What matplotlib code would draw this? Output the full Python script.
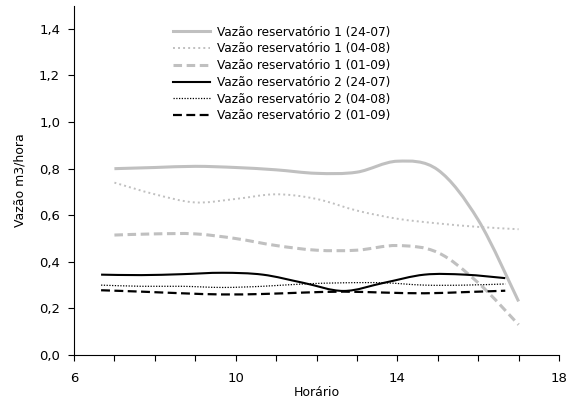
import matplotlib
matplotlib.use("Agg")
import matplotlib.pyplot as plt
from matplotlib.path import Path
from matplotlib.patches import PathPatch
from matplotlib.lines import Line2D
import numpy as np

plt.rcParams['font.family'] = ['DejaVu Sans']

# hours of the readings
hours_r1 = [7, 8, 9, 10, 11, 12, 13, 14, 15, 16, 17]
hours_r2 = [6.67, 7.67, 8.67, 9.67, 10.67, 11.67, 12.67, 13.67, 14.67, 15.67, 16.67]

# reservatório 1
r1_2407 = [0.80, 0.805, 0.81, 0.805, 0.795, 0.78, 0.785, 0.832, 0.795, 0.58, 0.23]
r1_0408 = [0.74, 0.69, 0.655, 0.67, 0.69, 0.67, 0.62, 0.585, 0.565, 0.55, 0.54]
r1_0109 = [0.515, 0.52, 0.52, 0.50, 0.47, 0.45, 0.45, 0.47, 0.44, 0.31, 0.13]
# reservatório 2
r2_2407 = [0.345, 0.343, 0.347, 0.353, 0.345, 0.31, 0.275, 0.31, 0.345, 0.345, 0.33]
r2_0408 = [0.30, 0.295, 0.295, 0.29, 0.295, 0.305, 0.31, 0.31, 0.30, 0.30, 0.305]
r2_0109 = [0.278, 0.272, 0.265, 0.26, 0.262, 0.268, 0.272, 0.268, 0.265, 0.27, 0.276]

labels = ["Vazão reservatório 1 (24-07)", "Vazão reservatório 1 (04-08)",
          "Vazão reservatório 1 (01-09)", "Vazão reservatório 2 (24-07)",
          "Vazão reservatório 2 (04-08)", "Vazão reservatório 2 (01-09)"]

gray = '#c0c0c0'
styles = [
    dict(color=gray, lw=2.2, ls='-'),
    dict(color=gray, lw=1.4, ls=(0, (1, 1.6))),
    dict(color=gray, lw=2.2, ls=(0, (2.8, 1.5))),
    dict(color='black', lw=1.5, ls='-'),
    dict(color='black', lw=0.9, ls=(0, (1, 1.2))),
    dict(color='black', lw=1.6, ls=(0, (4, 2))),
]


def smooth_path(x, y):
    # excel-like smoothed line: catmull-rom segments as cubic beziers
    pts = np.column_stack([x, y])
    p = np.vstack([pts[0], pts, pts[-1]])
    verts = [pts[0]]
    codes = [Path.MOVETO]
    for i in range(1, len(p) - 2):
        c1 = p[i] + (p[i + 1] - p[i - 1]) / 6
        c2 = p[i + 1] - (p[i + 2] - p[i]) / 6
        verts += [c1, c2, p[i + 1]]
        codes += [Path.CURVE4] * 3
    return Path(verts, codes)


fig = plt.figure(figsize=(5.79, 4.01), dpi=100)
ax = fig.add_axes([0.1278, 0.1147, 0.8377, 0.8713])

series = [(hours_r1, r1_2407), (hours_r1, r1_0408), (hours_r1, r1_0109),
          (hours_r2, r2_2407), (hours_r2, r2_0408), (hours_r2, r2_0109)]
handles = []
for (x, y), st, lab in zip(series, styles, labels):
    patch = PathPatch(smooth_path(x, y), facecolor='none', edgecolor=st['color'],
                      lw=st['lw'], ls=st['ls'], capstyle='butt')
    ax.add_patch(patch)
    handles.append(Line2D([], [], color=st['color'], lw=st['lw'], ls=st['ls'], label=lab))

ax.set_xlim(6, 18)
ax.set_ylim(0, 1.5)
ax.set_xticks([6, 10, 14, 18])
ax.set_xticks(np.arange(6, 19, 1), minor=True)
ax.set_yticks(np.arange(0, 1.41, 0.2))
ax.set_yticklabels([f"{v:.1f}".replace('.', ',') for v in np.arange(0, 1.41, 0.2)])
ax.tick_params(axis='both', which='both', direction='out', length=4, width=0.8, labelsize=9.5)
ax.tick_params(axis='x', pad=8)
ax.tick_params(axis='y', pad=6)
for s in ['top', 'right']:
    ax.spines[s].set_visible(False)

ax.set_xlabel("Horário", fontsize=9, labelpad=1)
ax.set_ylabel("Vazão m3/hora", fontsize=9, labelpad=9)

ax.legend(handles=handles, loc='upper left', bbox_to_anchor=(0.204, 0.943), frameon=False,
          fontsize=8.7, handlelength=3.05, handletextpad=0.58, labelspacing=0.31,
          borderaxespad=0, borderpad=0)

fig.savefig("out.png", dpi=100)
